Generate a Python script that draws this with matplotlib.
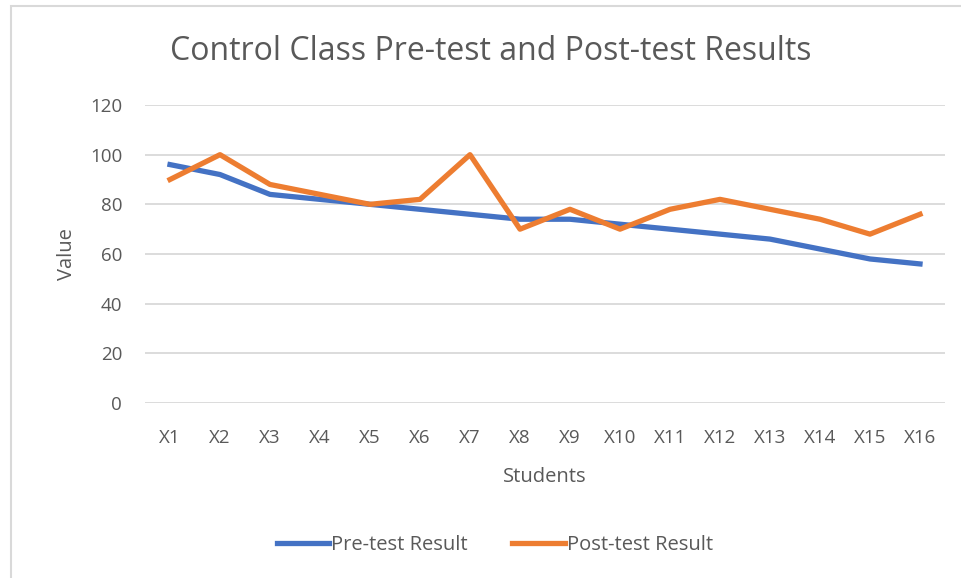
import matplotlib.pyplot as plt
from matplotlib.patches import Rectangle

students = ['X%d' % i for i in range(1, 17)]
pre_test = [96, 92, 84, 82, 80, 78, 76, 74, 74, 72, 70, 68, 66, 62, 58, 56]
post_test = [90, 100, 88, 84, 80, 82, 100, 70, 78, 70, 78, 82, 78, 74, 68, 76]
y_ticks = [0, 20, 40, 60, 80, 100, 120]

plt.rcParams['font.family'] = ['Open Sans', 'DejaVu Sans']
text_color = '#595959'

fig = plt.figure(figsize=(9.61, 5.78), dpi=100)
ax = fig.add_axes([145 / 961, 1 - 403 / 578, 800 / 961, 298 / 578])

x = range(len(students))
ax.plot(x, pre_test, color='#4472C4', lw=3.8, label='Pre-test Result', solid_joinstyle='round')
ax.plot(x, post_test, color='#ED7D31', lw=3.8, label='Post-test Result', solid_joinstyle='round')

ax.set_xlim(-0.5, len(students) - 0.5)
ax.set_ylim(0, 120)
ax.set_yticks(y_ticks)
ax.set_xticks(list(x))
ax.set_xticklabels(students)
ax.grid(axis='y', color='#d9d9d9', lw=1.3)
ax.set_axisbelow(True)
for s in ax.spines.values():
    s.set_visible(False)
ax.tick_params(length=0, labelsize=13.5, colors=text_color)
ax.tick_params(axis='x', pad=19)
ax.tick_params(axis='y', pad=16.5)

ax.set_xlabel('Students', fontsize=14.5, color=text_color, labelpad=14)
ax.set_ylabel('Value', fontsize=14.5, color=text_color, labelpad=9)
fig.text(0.511, 1 - 51 / 578, 'Control Class Pre-test and Post-test Results',
         ha='center', va='center', fontsize=23, color=text_color)

leg = fig.legend(loc='center', bbox_to_anchor=(0.515, 1 - 545 / 578), ncol=2,
                 frameon=False, fontsize=14.5, handlelength=2.6, handletextpad=0.1,
                 columnspacing=2.2)
for t in leg.get_texts():
    t.set_color(text_color)

# outer chart frame (left and top edges visible)
fig.add_artist(Rectangle((11 / 961, -0.05), 1.1, 1.05 - 6 / 578, transform=fig.transFigure,
                         fill=False, edgecolor='#d9d9d9', lw=1.5))

fig.savefig('out.png', dpi=100)
